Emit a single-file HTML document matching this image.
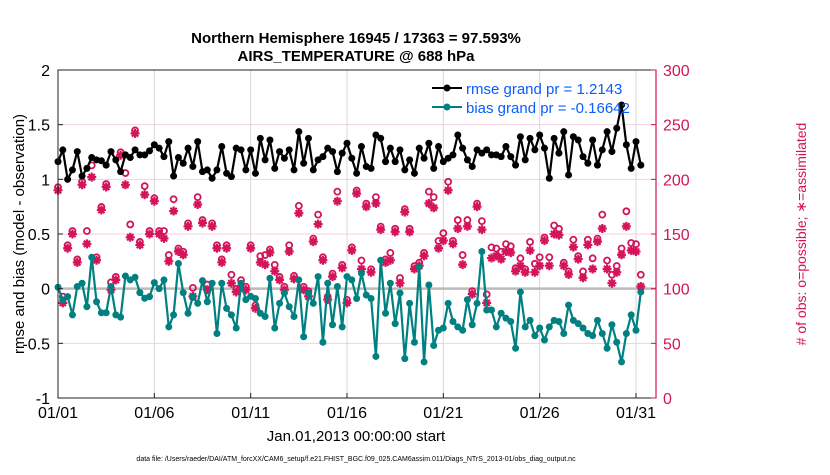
<!DOCTYPE html>
<html><head><meta charset="utf-8"><style>
body{margin:0;background:#fff;width:830px;height:470px;overflow:hidden}
svg{font-family:"Liberation Sans",sans-serif}
</style></head><body>
<svg id="chart" width="830" height="470">
<text x="356" y="43" text-anchor="middle" font-size="15" font-weight="bold">Northern Hemisphere 16945 / 17363 = 97.593%</text>
<text x="356" y="61" text-anchor="middle" font-size="15" font-weight="bold">AIRS_TEMPERATURE @ 688 hPa</text>
<text transform="translate(24,234) rotate(-90)" text-anchor="middle" font-size="15">rmse and bias (model - observation)</text>
<text transform="translate(806,234) rotate(-90)" text-anchor="middle" font-size="14" fill="#d4145a"># of obs: o=possible; ∗=assimilated</text>
<text x="356" y="441" text-anchor="middle" font-size="15">Jan.01,2013 00:00:00 start</text>
<text x="356" y="461" text-anchor="middle" font-size="7">data file: /Users/raeder/DAI/ATM_forcXX/CAM6_setup/f.e21.FHIST_BGC.f09_025.CAM6assim.011/Diags_NTrS_2013-01/obs_diag_output.nc</text>
<g id="grid"></g><g id="marks"></g><g id="axes"></g>
<g>
<line x1="432" y1="88" x2="462" y2="88" stroke="#000" stroke-width="2"/><circle cx="447" cy="88" r="3.5" fill="#000"/>
<text x="466" y="94" font-size="15" fill="#0a5cff">rmse grand pr = 1.2143</text>
<line x1="432" y1="107" x2="462" y2="107" stroke="#008080" stroke-width="2"/><circle cx="447" cy="107" r="3.5" fill="#008080"/>
<text x="466" y="113" font-size="15" fill="#0a5cff">bias grand pr = -0.16642</text>
</g>
</svg>
<script>
const xTickLabels=["01/01","01/06","01/11","01/16","01/21","01/26","01/31"];
const xTickDays=[0,5,10,15,20,25,30];
const leftTicks=[2,1.5,1,0.5,0,-0.5,-1];
const rightTicks=[300,250,200,150,100,50,0];
const rmse=[1.162,1.269,1.0,1.086,1.254,1.03,1.10,1.2,1.178,1.17,1.13,1.254,1.178,1.07,1.224,1.2,1.27,1.224,1.224,1.26,1.316,1.285,1.208,1.345,1.03,1.2,1.147,1.285,1.117,1.345,1.07,
1.086,1.01,1.086,1.3,1.055,1.025,1.285,1.27,1.086,1.27,1.055,1.375,1.178,1.36,1.1,1.254,1.193,1.27,1.086,1.436,1.147,1.375,1.086,1.178,1.208,1.285,1.254,1.07,1.24,1.33,
1.193,1.055,1.3,1.117,1.1,1.406,1.375,1.162,1.285,1.162,1.27,1.086,1.178,1.055,1.285,1.193,1.33,1.1,1.3,1.162,1.193,1.224,1.406,1.285,1.178,1.117,1.27,1.24,1.27,1.224,
1.224,1.208,1.3,1.208,1.13,1.39,1.178,1.375,1.27,1.406,1.285,1.01,1.375,1.24,1.436,1.04,1.39,1.36,1.208,1.147,1.36,1.13,1.27,1.436,1.254,1.467,1.68,1.316,1.1,1.345,1.13];
const bias=[0.013,-0.103,-0.073,-0.24,0.02,0.05,-0.165,0.287,-0.12,-0.22,-0.22,0.02,-0.24,-0.26,0.116,0.08,0.104,-0.036,-0.088,-0.073,0.055,0.0,0.08,-0.35,-0.24,0.23,-0.036,-0.225,-0.073,-0.134,0.073,
-0.12,0.05,-0.41,0.05,-0.18,-0.24,-0.36,0.05,-0.10,-0.07,-0.09,-0.225,-0.255,0.095,-0.36,-0.134,-0.04,-0.165,-0.255,0.08,-0.44,-0.04,-0.134,0.11,-0.49,0.05,-0.33,0.02,-0.35,0.11,
0.08,-0.09,0.14,-0.058,-0.09,-0.62,0.26,-0.225,0.05,-0.32,-0.04,-0.64,-0.134,-0.49,0.2,-0.67,0.034,-0.52,-0.38,-0.36,-0.134,-0.30,-0.35,-0.38,-0.10,-0.33,-0.134,0.34,-0.195,-0.195,
-0.35,-0.225,-0.27,-0.30,-0.545,-0.03,-0.35,-0.29,-0.43,-0.36,-0.47,-0.35,-0.29,-0.30,-0.41,-0.15,-0.29,-0.32,-0.36,-0.41,-0.43,-0.29,-0.41,-0.545,-0.33,-0.49,-0.67,-0.41,-0.24,-0.38,-0.03];
const assimilated=[190,87,137,150,124,195,141,202,126,172,193,99,108,222,195,147,242,140,186,150,180,150,146,125,171,134,131,157,93,177,160,
99,157,137,124,137,105,97,101,99,137,82,124,122,133,116,108,99,134,109,169,99,93,143,159,126,90,111,180,119,87,
135,187,118,175,115,178,154,124,126,152,105,170,152,118,121,130,178,174,137,144,190,141,155,122,157,95,175,154,87,128,
130,127,134,133,116,121,115,135,115,121,144,121,150,149,121,113,138,127,110,140,118,143,155,118,105,115,131,157,135,134,102];
const possible=[190,90,137,150,124,195,150,210,126,172,193,103,108,222,203,156,242,140,191,150,180,150,150,128,179,134,131,157,98,181,160,
101,157,137,124,137,110,97,105,99,137,82,127,128,133,119,108,99,137,109,173,99,95,143,165,126,90,111,186,119,87,
135,187,123,175,115,181,154,124,130,152,107,170,152,118,121,130,186,181,141,148,195,141,160,128,160,95,175,159,92,135,
134,131,138,136,116,125,115,140,120,126,144,126,155,152,121,113,142,127,113,142,125,143,165,123,110,118,134,168,139,138,110];
const L=58,R=656,T=70,B=398;
const xs=d=>L+d*(636-L)/30;
const yl=v=>T+(2-v)*(B-T)/3;
const yr=v=>T+(300-v)*(B-T)/300;
const NS='http://www.w3.org/2000/svg';
function mk(tag,attrs,parent){const e=document.createElementNS(NS,tag);for(const k in attrs)e.setAttribute(k,attrs[k]);parent.appendChild(e);return e;}
const grid=document.getElementById('grid'),marks=document.getElementById('marks'),axes=document.getElementById('axes');
rightTicks.forEach(v=>{if(v>0&&v<300){const g=mk('line',{x1:L,x2:R,y1:yr(v),y2:yr(v),stroke:'#f7cfe0','stroke-width':1},grid);

}});
xTickDays.forEach(d=>{if(d>0){const g=mk('line',{x1:xs(d),x2:xs(d),y1:T,y2:B,stroke:'#d8d8d8','stroke-width':1},grid);

}});
const z=mk('line',{x1:L,x2:R,y1:yl(0),y2:yl(0),stroke:'#bbb','stroke-width':2.5},grid);


const t=i=>i/4;
possible.forEach((v,i)=>{const c=mk('circle',{cx:xs(t(i)),cy:yr(v)-3,r:3,fill:'none',stroke:'#d4145a','stroke-width':1.8},marks);

});
assimilated.forEach((v,i)=>{const cx=xs(t(i)),cy=yr(v),r=4.5;
 const p=mk('path',{d:`M${cx-r},${cy}H${cx+r}M${cx},${cy-r}V${cy+r}M${cx-r*0.7},${cy-r*0.7}L${cx+r*0.7},${cy+r*0.7}M${cx-r*0.7},${cy+r*0.7}L${cx+r*0.7},${cy-r*0.7}`,stroke:'#d4145a','stroke-width':2.2,fill:'none'},marks);
 
 });
function series(arr,color,name){
 const p=mk('polyline',{points:arr.map((v,i)=>xs(t(i))+','+yl(v)).join(' '),fill:'none',stroke:color,'stroke-width':2.2},marks);
 
 
 arr.forEach((v,i)=>{const c=mk('circle',{cx:xs(t(i)),cy:yl(v),r:3.5,fill:color},marks);
 
 });
}
series(bias,'#008080','bias');
series(rmse,'#000','rmse');
const box=mk('rect',{x:L,y:T,width:R-L,height:B-T,fill:'none',stroke:'#222','stroke-width':1},axes);


const ra=mk('line',{x1:R,x2:R,y1:T,y2:B,stroke:'#d4145a','stroke-width':1.2},axes);


leftTicks.forEach(v=>{mk('line',{x1:L,x2:L+5,y1:yl(v),y2:yl(v),stroke:'#222'},axes);
 const e=mk('text',{x:L-8,y:yl(v)+6,'text-anchor':'end','font-size':16},axes);e.textContent=String(v);
 
 });
rightTicks.forEach(v=>{mk('line',{x1:R-5,x2:R,y1:yr(v),y2:yr(v),stroke:'#d4145a'},axes);
 const e=mk('text',{x:R+7,y:yr(v)+6,'font-size':16,fill:'#d4145a'},axes);e.textContent=String(v);
 
 });
xTickDays.forEach((d,i)=>{mk('line',{x1:xs(d),x2:xs(d),y1:B-5,y2:B,stroke:'#222'},axes);
 const e=mk('text',{x:xs(d),y:B+20,'text-anchor':'middle','font-size':16},axes);e.textContent=xTickLabels[i];
 
 });
</script>
</body></html>
